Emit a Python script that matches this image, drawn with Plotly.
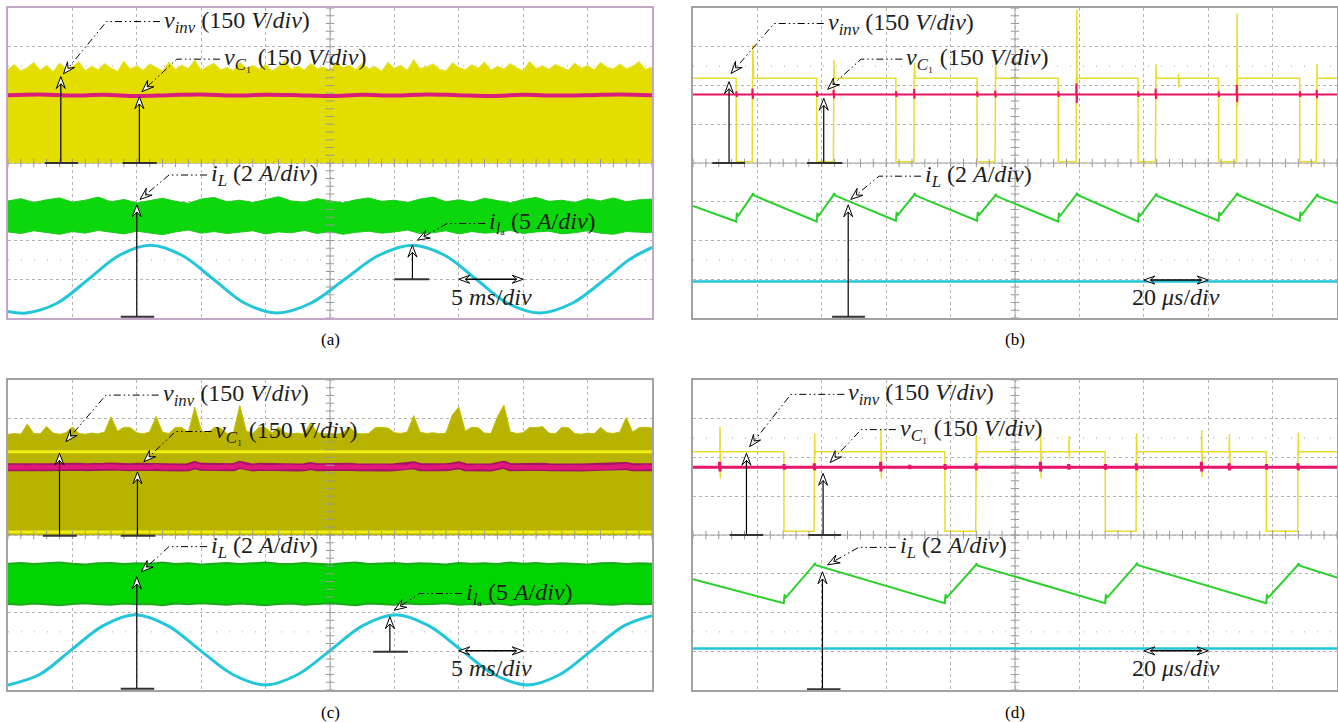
import numpy as np
import plotly.graph_objects as go

# ==================== DATA (units = divisions) ====================
# sample positions used for the noisy envelopes
samp10 = [round(0.1 * i, 1) for i in range(101)]
samp5 = [round(0.2 * i, 1) for i in range(51)]
samp2 = [round(0.5 * i, 1) for i in range(21)]

# ---- (a) 5 ms/div ----
ya_base = 4.0
ya_top = [6.42, 6.55, 6.38, 6.47, 6.60, 6.40, 6.52, 6.36, 6.58, 6.44,
          6.49, 6.62, 6.39, 6.50, 6.41, 6.57, 6.45, 6.37, 6.63, 6.43,
          6.51, 6.40, 6.56, 6.46, 6.38, 6.61, 6.42, 6.53, 6.44, 6.66,
          6.40, 6.50, 6.58, 6.41, 6.47, 6.39, 6.60, 6.45, 6.52, 6.43,
          6.55, 6.38, 6.49, 6.64, 6.42, 6.51, 6.40, 6.57, 6.44, 6.48,
          6.39, 6.62, 6.46, 6.53, 6.41, 6.58, 6.43, 6.50, 6.37, 6.60,
          6.45, 6.52, 6.40, 6.67, 6.44, 6.49, 6.56, 6.42, 6.38, 6.59,
          6.47, 6.41, 6.54, 6.45, 6.61, 6.40, 6.50, 6.43, 6.57, 6.46,
          6.39, 6.63, 6.44, 6.51, 6.42, 6.55, 6.48, 6.40, 6.58, 6.45,
          6.52, 6.41, 6.60, 6.47, 6.43, 6.56, 6.44, 6.50, 6.62, 6.42, 6.48]
ma_y = [5.75, 5.77, 5.74, 5.76, 5.73, 5.75, 5.77, 5.74, 5.76, 5.75, 5.73,
        5.76, 5.74, 5.77, 5.75, 5.73, 5.76, 5.74, 5.75, 5.77, 5.75]
ga_top = [3.02, 3.08, 2.98, 3.05, 3.10, 2.99, 3.04, 3.12, 3.00, 3.06,
          2.97, 3.03, 3.09, 3.01, 2.96, 3.07, 3.11, 3.00, 3.04, 2.98,
          3.06, 3.13, 3.02, 2.99, 3.08, 3.03, 2.97, 3.05, 3.10, 3.01,
          3.04, 2.98, 3.07, 3.12, 3.00, 3.05, 2.99, 3.09, 3.03, 2.97,
          3.06, 3.11, 3.01, 3.04, 2.98, 3.08, 3.02, 3.10, 3.00, 3.05, 3.07]
ga_bot = [2.22, 2.18, 2.25, 2.20, 2.16, 2.23, 2.19, 2.26, 2.21, 2.17,
          2.24, 2.20, 2.15, 2.22, 2.27, 2.19, 2.23, 2.18, 2.21, 2.25,
          2.17, 2.22, 2.20, 2.26, 2.18, 2.23, 2.16, 2.21, 2.24, 2.19,
          2.22, 2.27, 2.18, 2.20, 2.25, 2.17, 2.23, 2.19, 2.21, 2.26,
          2.18, 2.22, 2.24, 2.17, 2.20, 2.25, 2.19, 2.16, 2.23, 2.21, 2.20]
ca_x = [0.0, 0.28, 0.76, 1.25, 1.73, 2.21, 2.70, 3.19, 3.68, 4.17, 4.70,
        5.23, 5.76, 6.29, 6.78, 7.27, 7.76, 8.25, 8.76, 9.27, 9.64, 10.0]
ca_y = [0.17, 0.13, 0.38, 1.00, 1.62, 1.88, 1.62, 1.00, 0.38, 0.13, 0.38,
        1.00, 1.62, 1.88, 1.62, 1.00, 0.38, 0.13, 0.38, 1.00, 1.50, 1.82]

# ---- (b) 20 us/div ----
yb_fall = [0.67, 1.92, 3.15, 4.41, 5.67, 6.91, 8.16, 9.42]
yb_rise = [0.92, 2.18, 3.43, 4.69, 5.95, 7.18, 8.44, 9.68]
yb_high, yb_low = 6.19, 4.03
yb_spk_x = [0.92, 2.18, 3.43, 4.69, 5.95, 7.18, 7.53, 8.44, 9.68]
yb_spk_hi = [7.05, 6.66, 6.58, 6.58, 7.95, 6.55, 6.30, 7.86, 6.55]
yb_spk_lo = [6.19, 6.19, 6.19, 6.19, 5.71, 6.19, 5.95, 5.45, 6.19]
mb_level = 5.77
mb_spk_x = [0.67, 0.92, 1.92, 2.18, 3.15, 3.43, 4.41, 4.69,
            5.67, 5.95, 6.91, 7.18, 8.16, 8.44, 9.42, 9.68]
mb_spk_a = [0.08, 0.15, 0.08, 0.12, 0.08, 0.14, 0.08, 0.10,
            0.08, 0.28, 0.08, 0.15, 0.08, 0.25, 0.08, 0.12]
gb_start, gb_end = 2.89, 2.96
gb_trough = [2.55, 2.55, 2.57, 2.57, 2.55, 2.55, 2.57, 2.57]
gb_peak = [3.17, 3.17, 3.17, 3.15, 3.18, 3.16, 3.18, 3.15]
cb_level = 0.94

# ---- (c) 5 ms/div ----
oc_base = 4.0
oc_top = [6.60, 6.62, 6.60, 6.86, 6.62, 6.61, 6.80, 6.63, 6.60, 6.64,
          6.79, 6.62, 6.60, 6.63, 6.61, 6.66, 7.05, 6.68, 6.78, 6.77,
          6.64, 6.61, 6.66, 7.06, 6.65, 6.62, 6.78, 6.77, 6.64, 7.30,
          6.70, 6.63, 6.77, 6.76, 6.62, 6.64, 7.34, 6.68, 6.62, 6.78,
          6.77, 6.63, 6.79, 6.64, 6.61, 6.63, 6.60, 6.90, 6.64, 6.61,
          6.62, 6.60, 6.64, 6.79, 6.63, 6.61, 6.62, 6.77, 6.78, 6.76,
          6.64, 6.62, 6.66, 7.08, 6.65, 6.62, 6.64, 6.61, 6.63, 7.10,
          7.30, 6.68, 6.78, 6.77, 6.63, 6.62, 7.05, 7.35, 6.66, 6.62,
          6.64, 6.78, 6.77, 6.80, 6.63, 6.61, 6.78, 6.77, 6.62, 6.60,
          6.63, 6.61, 6.78, 6.64, 6.62, 6.66, 7.03, 6.66, 6.77, 6.78, 6.76]
yc_lines = [6.15, 4.08]
mc_y = [5.75, 5.76, 5.75, 5.74, 5.76, 5.75, 5.75, 5.76, 5.74, 5.75,
        5.75, 5.76, 5.75, 5.74, 5.75, 5.76, 5.77, 5.75, 5.74, 5.75,
        5.76, 5.75, 5.74, 5.77, 5.75, 5.76, 5.75, 5.74, 5.75, 5.80,
        5.76, 5.75, 5.74, 5.75, 5.76, 5.75, 5.81, 5.75, 5.74, 5.76,
        5.75, 5.74, 5.75, 5.76, 5.75, 5.74, 5.75, 5.78, 5.75, 5.76,
        5.75, 5.74, 5.75, 5.76, 5.75, 5.74, 5.75, 5.76, 5.75, 5.74,
        5.75, 5.76, 5.75, 5.80, 5.75, 5.74, 5.75, 5.76, 5.75, 5.77,
        5.80, 5.75, 5.74, 5.76, 5.75, 5.74, 5.78, 5.81, 5.75, 5.76,
        5.75, 5.74, 5.75, 5.76, 5.75, 5.74, 5.75, 5.76, 5.75, 5.74,
        5.75, 5.76, 5.75, 5.74, 5.75, 5.76, 5.78, 5.75, 5.74, 5.76, 5.75]
gc_top = [3.26, 3.28, 3.25, 3.27, 3.29, 3.26, 3.24, 3.27, 3.28, 3.25,
          3.27, 3.26, 3.29, 3.25, 3.27, 3.24, 3.26, 3.28, 3.25, 3.27,
          3.29, 3.26, 3.25, 3.28, 3.26, 3.24, 3.27, 3.29, 3.25, 3.26,
          3.28, 3.25, 3.27, 3.26, 3.24, 3.28, 3.26, 3.27, 3.25, 3.29,
          3.26, 3.28, 3.25, 3.27, 3.26, 3.24, 3.27, 3.28, 3.25, 3.27, 3.26]
gc_bot = [2.22, 2.20, 2.23, 2.21, 2.19, 2.22, 2.24, 2.21, 2.20, 2.23,
          2.21, 2.22, 2.19, 2.23, 2.21, 2.24, 2.22, 2.20, 2.23, 2.21,
          2.19, 2.22, 2.23, 2.20, 2.22, 2.24, 2.21, 2.19, 2.23, 2.22,
          2.20, 2.23, 2.21, 2.22, 2.24, 2.20, 2.22, 2.21, 2.23, 2.19,
          2.22, 2.20, 2.23, 2.21, 2.22, 2.24, 2.21, 2.20, 2.23, 2.21, 2.22]
cc_x = [0.0, 0.49, 0.98, 1.48, 1.97, 2.48, 2.98, 3.49, 4.0, 4.5, 5.01,
        5.51, 6.02, 6.53, 7.04, 7.55, 8.07, 8.57, 9.07, 9.57, 10.0]
cc_y = [0.13, 0.40, 1.03, 1.66, 1.94, 1.66, 1.03, 0.40, 0.13, 0.40, 1.03,
        1.66, 1.94, 1.66, 1.03, 0.40, 0.13, 0.40, 1.03, 1.66, 1.92]

# ---- (d) 20 us/div ----
yd_fall = [1.41, 3.91, 6.40, 8.90]
yd_rise = [1.88, 4.39, 6.88, 9.39]
yd_high, yd_low = 6.15, 4.10
yd_spk_x = [0.41, 1.88, 2.91, 4.39, 5.39, 5.83, 6.88, 7.89, 8.32, 9.39]
yd_spk_hi = [6.80, 6.62, 6.71, 6.58, 6.71, 6.55, 6.62, 6.71, 6.60, 6.64]
yd_spk_lo = [5.46, 6.05, 5.46, 6.05, 5.46, 5.95, 6.05, 5.50, 5.70, 6.05]
md_level = 5.75
md_spk_x = [0.41, 1.41, 1.88, 2.91, 3.36, 3.91, 4.39, 5.39, 5.83, 6.40, 6.88, 7.89, 8.32, 8.90, 9.39]
md_spk_a = [0.14, 0.08, 0.10, 0.14, 0.06, 0.08, 0.10, 0.14, 0.08, 0.08, 0.10, 0.14, 0.10, 0.08, 0.10]
gd_start, gd_end = 2.86, 2.90
gd_trough = [2.30, 2.30, 2.30, 2.30]
gd_peak = [3.23, 3.22, 3.23, 3.22]
cd_level = 1.07

# ==================== FIGURE ====================
W, H = 1338, 722
PXX, PXY = 64.4, 38.75          # pixels per division
PANEL = {
    'a': dict(xa='x', ya='y', x0=8, y0=8),
    'b': dict(xa='x2', ya='y2', x0=693, y0=8),
    'c': dict(xa='x3', ya='y3', x0=8, y0=380),
    'd': dict(xa='x4', ya='y4', x0=693, y0=380),
}

fig = go.Figure()


def add(p, **kw):
    kw.setdefault('showlegend', False)
    kw.setdefault('hoverinfo', 'skip')
    kw.setdefault('mode', 'lines')
    fig.add_trace(go.Scatter(xaxis=PANEL[p]['xa'], yaxis=PANEL[p]['ya'], **kw))


def square(falls, rises, hi, lo, sx, shi, slo):
    ev = [(0.0, 0, hi)]
    for f in falls:
        ev += [(f, 1, hi), (f + 0.003, 2, lo)]
    for r in rises:
        ev += [(r, 1, lo), (r + 0.003, 2, hi)]
    for x, a, b in zip(sx, shi, slo):
        ev += [(x + 0.006, 3, hi), (x + 0.009, 4, a), (x + 0.014, 5, b), (x + 0.02, 6, hi)]
    ev.append((10.0, 9, hi))
    ev.sort(key=lambda e: (e[0], e[1]))
    return [e[0] for e in ev], [e[2] for e in ev]


def spiky(level, sx, amp):
    xs, ys = [0.0], [level]
    for x, a in sorted(zip(sx, amp)):
        xs += [x, x + 0.004, x + 0.009, x + 0.013]
        ys += [level, level + a, level - 0.8 * a, level]
    xs.append(10.0)
    ys.append(level)
    return xs, ys


def saw(y0, falls, troughs, rises, peaks, yend):
    xs, ys = [0.0], [y0]
    for f, t, r, pk in zip(falls, troughs, rises, peaks):
        xs += [f, f + 0.012, f + 0.024, r, r + 0.012, r + 0.03]
        ys += [t - 0.06, t + 0.17, t + 0.07, pk, pk + 0.05, pk - 0.01]
    xs.append(10.0)
    ys.append(yend)
    return xs, ys


YEL_A = '#e4de00'
CYAN = '#22c6d8'

# ---- (a) ----
add('a', x=samp10, y=[ya_base] * len(samp10), line=dict(width=0, color=YEL_A))
add('a', x=samp10, y=ya_top, fill='tonexty', fillcolor=YEL_A, line=dict(width=1, color='#ece55a'))
add('a', x=samp2, y=ma_y, line=dict(width=4, color='#d81f7e', shape='spline'))
add('a', x=samp5, y=ga_bot, line=dict(width=1, color='#22c822'))
add('a', x=samp5, y=ga_top, fill='tonexty', fillcolor='#0cd60c', line=dict(width=1, color='#22c822'))
add('a', x=ca_x, y=ca_y, line=dict(width=3, color=CYAN, shape='spline'))

# ---- (b) ----
bx, by = square(yb_fall, yb_rise, yb_high, yb_low, yb_spk_x, yb_spk_hi, yb_spk_lo)
add('b', x=bx, y=by, line=dict(width=1.5, color='#ebdc2c'))
bx, by = spiky(mb_level, mb_spk_x, mb_spk_a)
add('b', x=bx, y=by, line=dict(width=2, color='#ee1560'))
bx, by = saw(gb_start, yb_fall, gb_trough, yb_rise, gb_peak, gb_end)
add('b', x=bx, y=by, line=dict(width=2, color='#2ad12a'))
add('b', x=[0, 10], y=[cb_level, cb_level], line=dict(width=2.5, color=CYAN))

# ---- (c) ----
add('c', x=samp10, y=[oc_base] * len(samp10), line=dict(width=0, color='#b7b300'))
add('c', x=samp10, y=oc_top, fill='tonexty', fillcolor='#b7b300', line=dict(width=1, color='#c4c000'))
for lv in yc_lines:
    add('c', x=[0, 10], y=[lv, lv], line=dict(width=3, color='#f2ee10'))
add('c', x=samp10, y=mc_y, line=dict(width=8, color='#a4126a'))
add('c', x=samp10, y=mc_y, line=dict(width=4.5, color='#e0187e'))
add('c', x=samp5, y=gc_bot, line=dict(width=2, color='#1caa1c'))
add('c', x=samp5, y=gc_top, fill='tonexty', fillcolor='#00d400', line=dict(width=2, color='#1caa1c'))
add('c', x=cc_x, y=cc_y, line=dict(width=3, color=CYAN, shape='spline'))

# ---- (d) ----
dx, dy = square(yd_fall, yd_rise, yd_high, yd_low, yd_spk_x, yd_spk_hi, yd_spk_lo)
add('d', x=dx, y=dy, line=dict(width=1.5, color='#ebdc2c'))
dx, dy = spiky(md_level, md_spk_x, md_spk_a)
add('d', x=dx, y=dy, line=dict(width=3, color='#e8156a'))
dx, dy = saw(gd_start, yd_fall, gd_trough, yd_rise, gd_peak, gd_end)
add('d', x=dx, y=dy, line=dict(width=2, color='#2ad12a'))
add('d', x=[0, 10], y=[cd_level, cd_level], line=dict(width=2.5, color=CYAN))

# center-line tick marks (scope graticule)
tick_y = [round(0.2 * i, 1) for i in range(41)]
tick_x = [round(0.2 * i, 1) for i in range(51)]
for p in 'abcd':
    add(p, x=[5] * len(tick_y), y=tick_y, mode='markers',
        marker=dict(symbol='line-ew', size=6, line=dict(width=1, color='#9a9a9a')))
    add(p, x=tick_x, y=[4] * len(tick_x), mode='markers',
        marker=dict(symbol='line-ns', size=6, line=dict(width=1, color='#9a9a9a')))

# ---- axes ----
layout = dict(width=W, height=H, margin=dict(l=0, r=0, t=0, b=0),
              paper_bgcolor='white', plot_bgcolor='white', showlegend=False)
for p, d in PANEL.items():
    xi = d['xa'][1:]
    yi = d['ya'][1:]
    border = '#c6a6c6' if p == 'a' else '#a2a2a2'
    layout['xaxis' + xi] = dict(domain=[d['x0'] / W, (d['x0'] + 644) / W], range=[0, 10],
                                showgrid=True, dtick=1, gridcolor='#b4b4b4', griddash='dot', gridwidth=1,
                                zeroline=False, showticklabels=False, ticks='',
                                showline=True, mirror=True, linecolor=border, linewidth=1.5,
                                anchor=d['ya'], fixedrange=True)
    layout['yaxis' + yi] = dict(domain=[1 - (d['y0'] + 310) / H, 1 - d['y0'] / H], range=[0, 8],
                                showgrid=True, dtick=1, gridcolor='#b4b4b4', griddash='dot', gridwidth=1,
                                zeroline=False, showticklabels=False, ticks='',
                                showline=True, mirror=True, linecolor=border, linewidth=1.5,
                                anchor=d['xa'], fixedrange=True)

shapes = []
annots = []
SERIF = 'Liberation Serif'
FONT = dict(family=SERIF, size=24, color='#1e1e1e')


def arrowhead(p, tip, tail, L=12.0, Wd=4.5):
    xa, ya = PANEL[p]['xa'], PANEL[p]['ya']
    tx, ty = tip
    sx, sy = tail
    dxp, dyp = (tx - sx) * PXX, (ty - sy) * PXY
    n = np.hypot(dxp, dyp)
    ux, uy = dxp / n, dyp / n
    nx, ny = -uy, ux
    pts = [(0, 0), (-L * ux + Wd * nx, -L * uy + Wd * ny), (-0.6 * L * ux, -0.6 * L * uy),
           (-L * ux - Wd * nx, -L * uy - Wd * ny)]
    path = 'M ' + ' L '.join(f'{tx + a / PXX:.4f},{ty + b / PXY:.4f}' for a, b in pts) + ' Z'
    shapes.append(dict(type='path', path=path, xref=xa, yref=ya, fillcolor='white',
                       line=dict(color='black', width=1), layer='above'))
    return tx - 0.6 * L * ux / PXX, ty - 0.6 * L * uy / PXY


def line(p, xs, ys, width=1, color='black', dash=None):
    xa, ya = PANEL[p]['xa'], PANEL[p]['ya']
    path = 'M ' + ' L '.join(f'{x:.4f},{y:.4f}' for x, y in zip(xs, ys))
    ln = dict(color=color, width=width)
    if dash:
        ln['dash'] = dash
    shapes.append(dict(type='path', path=path, xref=xa, yref=ya, line=ln, layer='above'))


DASHDOT = '7px,3px,1.5px,3px,1.5px,3px'


def label(p, text, tx, ty, corner, tip, vx, vbase, vtip, bar):
    xa, ya = PANEL[p]['xa'], PANEL[p]['ya']
    annots.append(dict(text=text, x=tx, y=ty, xref=xa, yref=ya, xanchor='left', yanchor='middle',
                       showarrow=False, font=FONT))
    nxp, nyp = arrowhead(p, tip, corner)
    line(p, [tx - 0.03, corner[0], nxp], [ty, corner[1], nyp], width=1, dash=DASHDOT)
    vx1, vy1 = arrowhead(p, (vx, vtip), (vx, vbase))
    line(p, [vx, vx1], [vbase, vy1], width=1.2)
    line(p, [bar[0], bar[1]], [vbase, vbase], width=2, color='#333333')


def timediv(p, text, x0, x1, y, ty):
    xa, ya = PANEL[p]['xa'], PANEL[p]['ya']
    a1 = arrowhead(p, (x1, y), (x0, y), L=11, Wd=4)
    a0 = arrowhead(p, (x0, y), (x1, y), L=11, Wd=4)
    line(p, [a0[0], a1[0]], [y, y], width=1.5)
    annots.append(dict(text=text, x=(x0 + x1) / 2, y=ty, xref=xa, yref=ya, xanchor='center',
                       yanchor='middle', showarrow=False, font=FONT))


VINV = '<i>v</i><sub><i>inv</i></sub> (150 <i>V</i>/<i>div</i>)'
VC1 = '<i>v</i><sub><i>C</i>₁</sub> (150 <i>V</i>/<i>div</i>)'
IL = '<i>i</i><sub><i>L</i></sub> (2 <i>A</i>/<i>div</i>)'
ILA = '<i>i</i><sub><i>l</i>ₐ</sub> (5 <i>A</i>/<i>div</i>)'
MS = '5 <i>ms</i>/<i>div</i>'
US = '20 <i>μs</i>/<i>div</i>'

# (a)
label('a', VINV, 2.39, 7.65, (1.53, 7.65), (0.86, 6.30), 0.82, 4.0, 6.23, (0.57, 1.09))
label('a', VC1, 3.32, 6.68, (2.62, 6.68), (2.08, 5.84), 2.04, 4.0, 5.71, (1.78, 2.31))
label('a', IL, 3.12, 3.69, (2.50, 3.69), (2.05, 3.06), 2.00, 0.03, 2.92, (1.75, 2.27))
label('a', ILA, 7.44, 2.44, (6.82, 2.44), (6.36, 2.01), 6.28, 1.00, 1.88, (6.00, 6.54))
timediv('a', MS, 7.0, 8.0, 1.0, 0.55)
# (b)
label('b', VINV, 2.06, 7.60, (1.26, 7.60), (0.59, 6.31), 0.56, 4.0, 6.10, (0.30, 0.81))
label('b', VC1, 3.28, 6.68, (2.61, 6.68), (2.09, 5.90), 2.03, 4.0, 5.67, (1.77, 2.32))
label('b', IL, 3.57, 3.66, (2.89, 3.66), (2.45, 3.06), 2.41, 0.03, 2.92, (2.16, 2.67))
timediv('b', US, 7.0, 8.0, 0.98, 0.54)
# (c)
label('c', VINV, 2.37, 7.61, (1.52, 7.61), (0.90, 6.41), 0.80, 3.98, 6.11, (0.54, 1.07))
label('c', VC1, 3.19, 6.67, (2.60, 6.67), (2.11, 5.89), 2.01, 3.98, 5.63, (1.75, 2.29))
label('c', IL, 3.12, 3.70, (2.50, 3.70), (2.07, 3.05), 2.00, 0.03, 2.92, (1.75, 2.27))
label('c', ILA, 7.08, 2.49, (6.39, 2.49), (6.00, 2.06), 5.93, 0.99, 1.89, (5.67, 6.21))
timediv('c', MS, 7.0, 8.0, 1.01, 0.56)
# (d)
label('d', VINV, 2.38, 7.63, (1.52, 7.63), (0.88, 6.28), 0.83, 4.0, 6.11, (0.57, 1.09))
label('d', VC1, 3.18, 6.72, (2.61, 6.72), (2.13, 5.87), 2.02, 4.0, 5.59, (1.79, 2.30))
label('d', IL, 3.18, 3.68, (2.57, 3.68), (2.09, 3.23), 2.01, 0.02, 3.05, (1.77, 2.29))
timediv('d', US, 7.0, 8.0, 1.01, 0.56)

# center graticule lines and faint dotted rows
for p, d in PANEL.items():
    xa, ya = d['xa'], d['ya']
    shapes.append(dict(type='line', x0=5, x1=5, y0=0, y1=8, xref=xa, yref=ya,
                       line=dict(color='#a0a0a0', width=1), layer='below'))
    shapes.append(dict(type='line', x0=0, x1=10, y0=4, y1=4, xref=xa, yref=ya,
                       line=dict(color='#a0a0a0', width=1), layer='below'))
    for yy in (1.5, 6.5):
        shapes.append(dict(type='line', x0=0, x1=10, y0=yy, y1=yy, xref=xa, yref=ya,
                           line=dict(color='#a8a8a8', width=1, dash='1px,12px'), layer='below'))

CAP = dict(family=SERIF, size=17, color='black')
for txt, cx, cy in [('(a)', 330, 340), ('(b)', 1015, 340), ('(c)', 330, 712), ('(d)', 1015, 712)]:
    annots.append(dict(text=txt, x=cx / W, y=1 - cy / H, xref='paper', yref='paper',
                       xanchor='center', yanchor='middle', showarrow=False, font=CAP))

layout['shapes'] = shapes
layout['annotations'] = annots
layout['font'] = dict(family=SERIF)
fig.update_layout(**layout)

fig.write_html("out.html", config={'displayModeBar': False},
               post_script="document.body.style.margin='0';document.body.style.overflow='hidden';")
